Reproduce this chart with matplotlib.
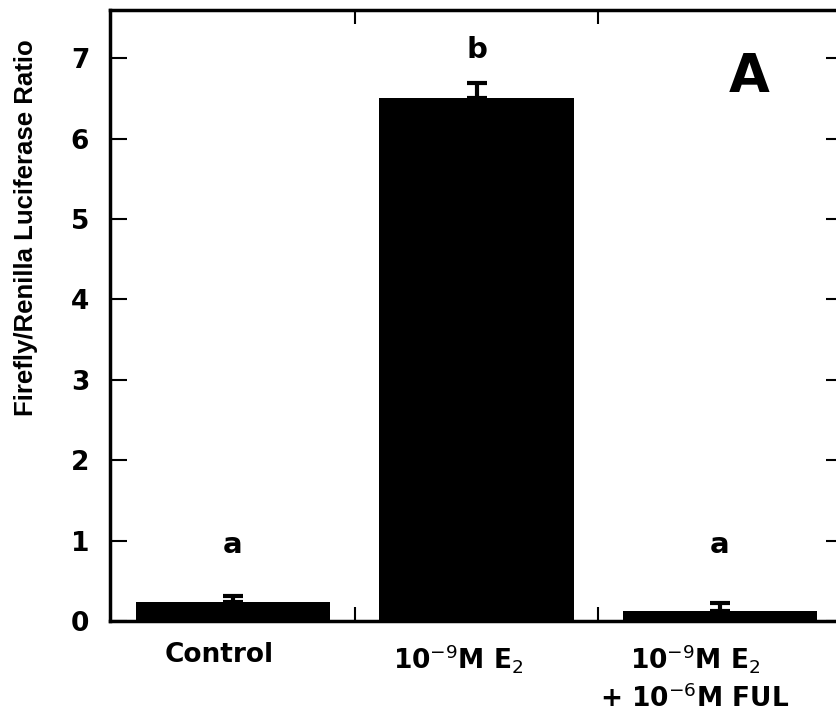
import numpy as np
import matplotlib
matplotlib.use("Agg")
import matplotlib.pyplot as plt
from matplotlib.transforms import ScaledTranslation

# data
groups = ["Control", "10$^{-9}$M E$_2$", "10$^{-9}$M E$_2$\n+ 10$^{-6}$M FUL"]
ratio = [0.24, 6.51, 0.12]
err = [0.07, 0.18, 0.10]
letters = ["a", "b", "a"]
letter_y = [0.94, 7.1, 0.94]

fig = plt.figure(figsize=(8.37, 7.21), dpi=100)
ax = fig.add_axes([110 / 837, 100 / 721, 733 / 837, 611 / 721])

x = np.arange(len(groups))
ax.bar(x, ratio, width=0.8, color="black", zorder=2)
ax.errorbar(x, ratio, yerr=[np.zeros(3), err], fmt="none", ecolor="black",
            elinewidth=3, capsize=7, capthick=3, zorder=3)

for xi, lt, ly in zip(x, letters, letter_y):
    ax.text(xi, ly, lt, ha="center", va="center", fontsize=21,
            fontweight="bold", family="DejaVu Sans")

ax.text(2.12, 6.77, "A", ha="center", va="center", fontsize=38,
        fontweight="bold", family="DejaVu Sans")

ax.set_xlim(-0.505, 2.505)
ax.set_ylim(0, 7.6)

# major ticks between bars, category names on minor ticks
ax.set_xticks([0.5, 1.5])
ax.set_xticklabels([])
ax.set_xticks(x, minor=True)
ax.set_xticklabels(groups, minor=True, fontsize=19, fontweight="bold",
                   family="DejaVu Sans", multialignment="center",
                   linespacing=1.45)
ax.tick_params(axis="x", which="minor", length=0, pad=15)
ax.tick_params(axis="x", which="major", direction="in", length=10, width=1.5,
               top=True)
ax.set_yticks(range(8))
ax.tick_params(axis="y", direction="in", length=12, width=1.5, right=True,
               labelsize=19, pad=15)
for lab in ax.get_yticklabels():
    lab.set_fontweight("bold")
    lab.set_family("DejaVu Sans")

shifts = [-14, -18, -25]
for lab, s in zip(ax.get_xticklabels(minor=True), shifts):
    lab.set_transform(lab.get_transform() + ScaledTranslation(s / 100, 0, fig.dpi_scale_trans))

for sp in ax.spines.values():
    sp.set_linewidth(2.5)

fig.text(26 / 837, 1 - 228 / 721, "Firefly/Renilla Luciferase Ratio",
         rotation=90, ha="center", va="center", fontsize=18.5,
         fontweight="bold", family="Liberation Sans")

fig.savefig("out.png", dpi=100)
